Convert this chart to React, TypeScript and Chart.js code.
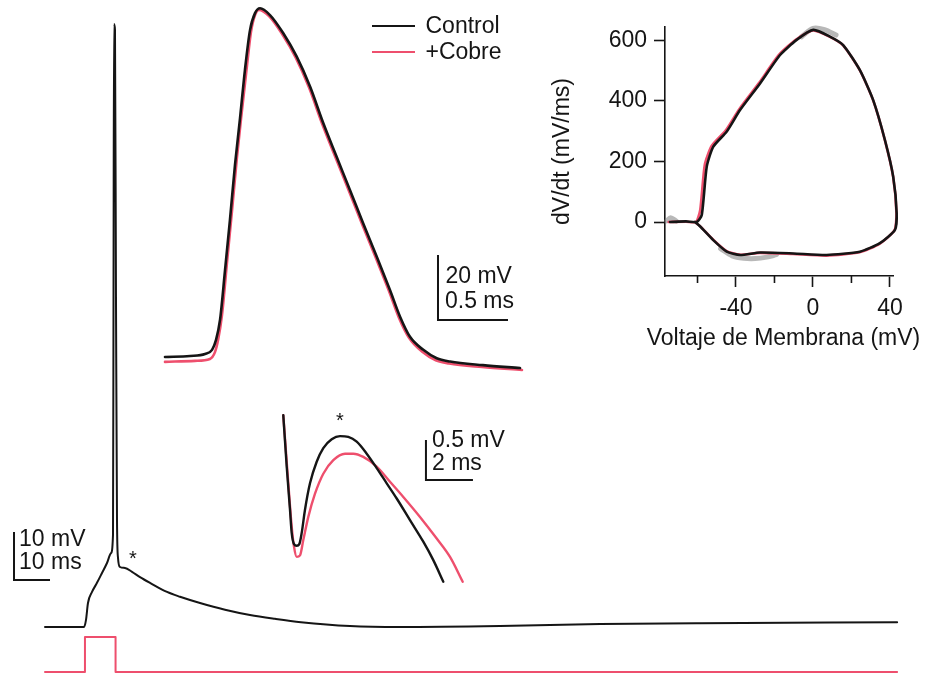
import React, { useEffect, useRef } from 'react';
import { Chart, registerables } from 'chart.js';

Chart.register(...registerables);

const FONT = "'Liberation Sans', Arial, Helvetica, sans-serif";
const INK = '#151515';
const RED = '#ee4f6d';

// ---- Main recording (ms, mV) ----
const mainTime = [0, 10.83, 11.39, 11.94, 13.06, 14.44, 15.83, 17.22, 18.33, 18.89, 19.03, 19.17, 19.44, 19.72, 20.0, 20.28, 20.83, 22.22, 24.17, 26.39, 29.17, 33.9, 37.5, 43.06, 50.0, 56.94, 63.89, 71.1, 84.7, 98.6, 126.4, 154.2, 181.9, 236.7];
const mainVoltage = [-70, -70, -68.5, -65.0, -62.7, -60.8, -58.75, -56.67, -54.6, -50.8, -1.9, 55.6, 54.4, -1.9, -47.7, -55.6, -57.5, -57.7, -58.5, -59.6, -60.8, -62.7, -63.7, -65.0, -66.4, -67.5, -68.3, -69.0, -69.8, -70.0, -69.8, -69.4, -69.2, -69.0];

// ---- Stimulus (nA) ----
const stimTime = [0, 11.1, 11.1, 19.6, 19.6, 236.7];
const stimCurrent = [0, 0, 1, 1, 0, 0];

// ---- Inset 1: expanded action potential (ms, mV) ----
const apTimeControl = [0, 0.179, 0.286, 0.336, 0.364, 0.393, 0.429, 0.464, 0.5, 0.536, 0.571, 0.607, 0.643, 0.679, 0.75, 0.845, 0.941, 1.036, 1.131, 1.226, 1.321, 1.416, 1.512, 1.607, 1.679, 1.75, 1.845, 1.941, 2.036, 2.271, 2.536];
const apControl = [-70.0, -69.7, -69.1, -67.8, -64.8, -58.6, -43.2, -27.8, -10.9, 3.5, 18.3, 30.5, 35.8, 37.3, 35.2, 29.6, 22.4, 13.2, 1.9, -8.4, -18.6, -28.9, -39.1, -49.4, -57.6, -63.8, -67.8, -70.4, -71.4, -72.5, -73.4];
const apTimeCobre = [0, 0.214, 0.321, 0.357, 0.379, 0.407, 0.443, 0.479, 0.514, 0.55, 0.586, 0.614, 0.643, 0.671, 0.743, 0.838, 0.934, 1.029, 1.124, 1.219, 1.314, 1.409, 1.505, 1.6, 1.671, 1.743, 1.838, 1.934, 2.029, 2.264, 2.55];
const apCobre = [-71.5, -71.2, -70.6, -68.5, -64.8, -57.1, -40.8, -24.8, -8.5, 6.0, 19.8, 30.0, 35.2, 36.8, 34.9, 29.3, 22.1, 12.9, 1.6, -8.7, -18.9, -29.2, -39.4, -49.7, -57.9, -64.1, -68.4, -71.0, -72.0, -73.1, -74.0];

// ---- Inset 2: afterdepolarization (ms, mV) ----
const adpTimeControl = [0, 0.145, 0.285, 0.357, 0.455, 0.57, 0.681, 0.783, 0.923, 1.136, 1.421, 1.702, 2.06, 2.413, 2.766, 3.123, 3.549, 3.974, 4.4, 4.826, 5.391, 5.957, 6.383, 6.809];
const adpControl = [-56.37, -57.01, -57.55, -57.84, -57.98, -58.0, -57.98, -57.84, -57.55, -57.22, -56.95, -56.78, -56.67, -56.63, -56.64, -56.7, -56.85, -57.03, -57.22, -57.41, -57.68, -57.95, -58.18, -58.45];
const adpTimeCobre = [0, 0.213, 0.357, 0.455, 0.57, 0.711, 0.851, 1.064, 1.349, 1.702, 2.128, 2.626, 2.979, 3.404, 3.974, 4.54, 5.106, 5.817, 6.528, 7.094, 7.634];
const adpCobre = [-56.37, -57.22, -57.76, -58.01, -58.14, -58.12, -57.93, -57.64, -57.35, -57.1, -56.93, -56.85, -56.85, -56.89, -57.01, -57.2, -57.39, -57.64, -57.91, -58.14, -58.45];

// ---- Phase plot (mV, mV/ms) ----
const phaseVControl = [-74.3, -66, -60.4, -57.8, -55.2, -51.8, -44.8, -37.9, -27.5, -17.1, -8.5, 0.2, 8.8, 15.7, 24.4, 31.3, 37.4, 41.7, 43.5, 42.6, 34.8, 24.4, 7.1, -10.2, -27.5, -37.9, -44.8, -51.8, -58.6, -61.3];
const phaseDControl = [0, 2, 0, 23, 183, 249, 299, 370, 458, 552, 602, 635, 613, 585, 502, 403, 271, 150, 29, -26, -70, -98, -109, -104, -101, -109, -98, -60, -15, 0];
const phaseVCobre = [-75, -66, -60.8, -58.6, -56.2, -52.6, -45.4, -38.4, -28, -17.6, -8.8, 0, 8.8, 15.7, 24.4, 31.3, 37.4, 41.7, 43.4, 42.4, 34.6, 24.2, 7, -10.4, -27.7, -38, -45, -52, -58.8, -61.5];
const phaseDCobre = [0, 1, 0, 40, 190, 252, 302, 372, 460, 553, 603, 633, 612, 584, 501, 402, 270, 149, 28, -27, -72, -100, -111, -106, -102, -108, -96, -58, -13, 0];
const phaseVTrials = [-76, -74, -71, null, -48, -42, -36, -30, -24, -19, null, -6, 0, 6, 12];
const phaseDTrials = [4, 14, 3, null, -88, -112, -120, -121, -116, -108, null, 612, 640, 636, 618];
const phaseYTicks = [0, 200, 400, 600];
const phaseXTicks = [-40, 0, 40];
const phaseXMinorTicks = [-60, -20, 20];
const phaseXTitle = 'Voltaje de Membrana (mV)';
const phaseYTitle = 'dV/dt (mV/ms)';

// ---- Scale bars (values) ----
const scaleBarMv = [10, 20, 0.5];
const scaleBarMs = [10, 0.5, 2];
const scaleBarMvText = ['10 mV', '20 mV', '0.5 mV'];
const scaleBarMsText = ['10 ms', '0.5 ms', '2 ms'];

const legendLabels = ['Control', '+Cobre'];

// ---- layout constants (positions of bars, asterisks, legend) ----
const barLayout = [
  { xAxis: 'x', yAxis: 'y', t0: -8.61, v0: -60.2, l1: [5, 8], l2: [5, 31] },
  { xAxis: 'xI1', yAxis: 'yI1', t0: 1.95, v0: -58.6, l1: [7.5, 21.7], l2: [7, 46.7] },
  { xAxis: 'xI2', yAxis: 'yI2', t0: 6.07, v0: -57.18, l1: [6, 1], l2: [6, 24] },
];
const starLayout = [
  { xAxis: 'x', yAxis: 'y', t: 24.4, v: -54.6 },
  { xAxis: 'xI2', yAxis: 'yI2', t: 2.41, v: -56.37 },
];

const pts = (xs: (number | null)[], ys: (number | null)[]) => xs.map((x, i) => ({ x: x as number, y: ys[i] as number }));

const traceStyle = (color: string, width: number, xAxisID: string, yAxisID: string) => ({
  borderColor: color,
  backgroundColor: color,
  borderWidth: width,
  pointRadius: 0,
  fill: false,
  borderJoinStyle: 'round' as const,
  borderCapStyle: 'round' as const,
  xAxisID,
  yAxisID,
});

const hiddenAxis = (min: number, max: number) => ({ type: 'linear' as const, display: false, min, max });

const annotatePlugin = {
  id: 'annotate',
  afterDatasetsDraw(chart: any) {
    const { ctx, scales } = chart;
    ctx.save();
    ctx.fillStyle = INK;
    ctx.textAlign = 'left';
    ctx.textBaseline = 'middle';
    ctx.font = `23px ${FONT}`;
    barLayout.forEach((b, i) => {
      const xp = scales[b.xAxis].getPixelForValue(b.t0);
      const yTop = scales[b.yAxis].getPixelForValue(b.v0 + scaleBarMv[i]);
      ctx.fillText(scaleBarMvText[i], xp + b.l1[0], yTop + b.l1[1]);
      ctx.fillText(scaleBarMsText[i], xp + b.l2[0], yTop + b.l2[1]);
    });
    // asterisks
    ctx.font = `20px ${FONT}`;
    ctx.textAlign = 'center';
    ctx.textBaseline = 'alphabetic';
    starLayout.forEach((s) => {
      const xp = scales[s.xAxis].getPixelForValue(s.t);
      const yp = scales[s.yAxis].getPixelForValue(s.v);
      ctx.fillText('*', xp, yp + 11.5);
    });
    // legend
    const colors = [INK, RED];
    const rows = [26, 52];
    ctx.font = `23px ${FONT}`;
    ctx.textAlign = 'left';
    ctx.textBaseline = 'middle';
    legendLabels.forEach((lab, i) => {
      ctx.strokeStyle = colors[i];
      ctx.lineWidth = 2;
      ctx.beginPath();
      ctx.moveTo(372, rows[i]);
      ctx.lineTo(415, rows[i]);
      ctx.stroke();
      ctx.fillStyle = INK;
      ctx.fillText(lab, 425.5, rows[i] + 0.5);
    });
    ctx.restore();
  },
};

const phaseDecorPlugin = {
  id: 'phaseDecor',
  afterDraw(chart: any) {
    const { ctx, scales, chartArea } = chart;
    ctx.save();
    ctx.strokeStyle = INK;
    ctx.lineWidth = 1.6;
    phaseXMinorTicks.forEach((v) => {
      const xp = scales.x.getPixelForValue(v);
      ctx.beginPath();
      ctx.moveTo(xp, chartArea.bottom);
      ctx.lineTo(xp, chartArea.bottom + 7);
      ctx.stroke();
    });
    ctx.fillStyle = INK;
    ctx.font = `23px ${FONT}`;
    ctx.textAlign = 'center';
    ctx.textBaseline = 'middle';
    ctx.fillText(phaseXTitle, chartArea.left + (chartArea.right - chartArea.left) / 2 + 4.5, chartArea.bottom + 63);
    ctx.restore();
  },
};

export default function App() {
  const mainRef = useRef<HTMLCanvasElement>(null);
  const phaseRef = useRef<HTMLCanvasElement>(null);

  useEffect(() => {
    const bars = barLayout.map((b, i) => ({
      data: [
        { x: b.t0, y: b.v0 + scaleBarMv[i] },
        { x: b.t0, y: b.v0 },
        { x: b.t0 + scaleBarMs[i], y: b.v0 },
      ],
      ...traceStyle(INK, 2, b.xAxis, b.yAxis),
      borderJoinStyle: 'miter' as const,
      borderCapStyle: 'butt' as const,
      tension: 0,
    }));

    const mono = { cubicInterpolationMode: 'monotone' as const };

    const main = new Chart(mainRef.current as HTMLCanvasElement, {
      type: 'line',
      data: {
        datasets: [
          { data: pts(mainTime, mainVoltage), ...traceStyle(INK, 2, 'x', 'y'), ...mono },
          { data: pts(stimTime, stimCurrent), ...traceStyle(RED, 2, 'x', 'yS'), tension: 0 },
          { data: pts(apTimeControl, apControl), ...traceStyle(INK, 2.6, 'xI1', 'yI1'), ...mono },
          { data: pts(apTimeCobre, apCobre), ...traceStyle(RED, 2.6, 'xI1', 'yI1'), ...mono },
          { data: pts(adpTimeControl, adpControl), ...traceStyle(INK, 2.4, 'xI2', 'yI2'), ...mono },
          { data: pts(adpTimeCobre, adpCobre), ...traceStyle(RED, 2.4, 'xI2', 'yI2'), ...mono },
          ...bars,
        ] as any,
      },
      options: {
        animation: false,
        responsive: false,
        maintainAspectRatio: false,
        events: [],
        layout: { padding: 0 },
        plugins: { legend: { display: false }, tooltip: { enabled: false } },
        scales: {
          x: hiddenAxis(-12.5, 245),
          y: hiddenAxis(-80, 60.625),
          yS: hiddenAxis(-0.0857, 19.2),
          xI1: hiddenAxis(-1.1786, 5.443),
          yI1: hiddenAxis(-167.85, 39.846),
          xI2: hiddenAxis(-12.055, 27.391),
          yI2: hiddenAxis(-59.616, -51.179),
        },
      },
      plugins: [annotatePlugin],
    });

    const tickFont = { family: FONT, size: 23 };
    const phase = new Chart(phaseRef.current as HTMLCanvasElement, {
      type: 'line',
      data: {
        datasets: [
          { data: pts(phaseVControl, phaseDControl), ...traceStyle(INK, 2.6, 'x', 'y'), tension: 0.2, clip: false },
          { data: pts(phaseVCobre, phaseDCobre), ...traceStyle(RED, 2.6, 'x', 'y'), tension: 0.2, clip: false },
          { data: pts(phaseVTrials, phaseDTrials), ...traceStyle('rgba(125,125,125,0.55)', 5, 'x', 'y'), tension: 0.3, clip: false, spanGaps: false },
        ] as any,
      },
      options: {
        animation: false,
        responsive: false,
        maintainAspectRatio: false,
        events: [],
        layout: { padding: { top: 27, right: 34, left: 0, bottom: 0 } },
        plugins: { legend: { display: false }, tooltip: { enabled: false } },
        scales: {
          x: {
            type: 'linear',
            min: -76.9,
            max: 41.6,
            afterBuildTicks: (s: any) => {
              s.ticks = phaseXTicks.map((v) => ({ value: v }));
            },
            afterFit: (s: any) => {
              s.height = 84;
            },
            grid: { display: true, drawOnChartArea: false, drawTicks: true, tickLength: 11, tickColor: INK, tickWidth: 1.6 },
            border: { display: true, color: INK, width: 1.6 },
            ticks: { color: INK, font: tickFont, padding: 8, maxRotation: 0, autoSkip: false, callback: (v: any) => String(v) },
            title: { display: false },
          },
          y: {
            type: 'linear',
            min: -178.5,
            max: 644.6,
            afterBuildTicks: (s: any) => {
              s.ticks = phaseYTicks.map((v) => ({ value: v }));
            },
            afterFit: (s: any) => {
              s.width = 125;
            },
            grid: { display: true, drawOnChartArea: false, drawTicks: true, tickLength: 11, tickColor: INK, tickWidth: 1.6 },
            border: { display: true, color: INK, width: 1.6 },
            ticks: { color: INK, font: tickFont, padding: 7, autoSkip: false, callback: (v: any) => String(v) },
            title: { display: true, text: phaseYTitle, color: INK, font: tickFont, padding: { top: 9, bottom: 0 } },
          },
        },
      } as any,
      plugins: [phaseDecorPlugin],
    });

    return () => {
      main.destroy();
      phase.destroy();
    };
  }, []);

  return (
    <div style={{ position: 'fixed', left: 0, top: 0, width: 927, height: 675, background: '#fff', overflow: 'hidden' }}>
      <canvas ref={mainRef} width={927} height={675} style={{ position: 'absolute', left: 0, top: 0 }} />
      <canvas ref={phaseRef} width={387} height={360} style={{ position: 'absolute', left: 540, top: 0 }} />
    </div>
  );
}
